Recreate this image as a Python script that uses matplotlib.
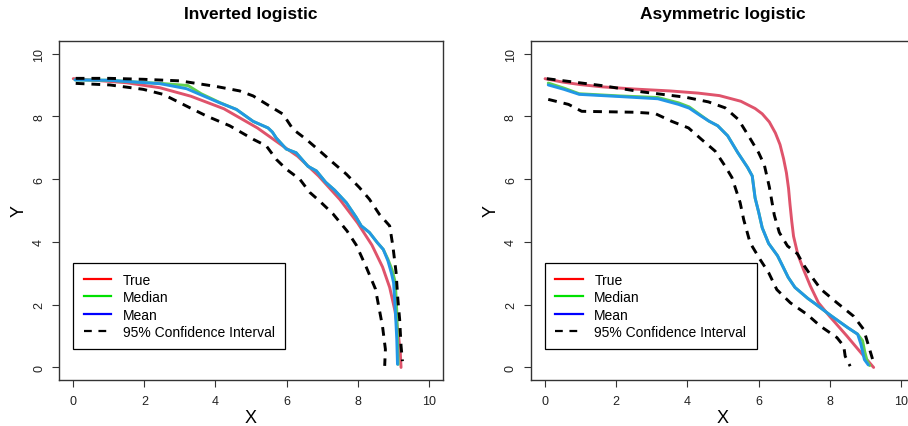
import matplotlib
matplotlib.use("Agg")
import matplotlib.pyplot as plt
from matplotlib.lines import Line2D

plt.rcParams['font.family'] = ['Liberation Sans', 'DejaVu Sans']

titles = ["Inverted logistic", "Asymmetric logistic"]
legend_labels = ["True", "Median", "Mean", "95% Confidence Interval"]
ticks = [0, 2, 4, 6, 8, 10]

# ---- Inverted logistic ----
inv_true_x = [0, 1.5, 2.44, 3.31, 4.24, 5.18, 5.84, 6.31, 6.9, 7.5, 8.0, 8.4, 8.7, 8.9, 9.05, 9.15, 9.2, 9.22]
inv_true_y = [9.2, 9.07, 8.91, 8.64, 8.24, 7.63, 7.1, 6.73, 6.1, 5.35, 4.6, 3.9, 3.2, 2.55, 1.8, 1.0, 0.45, 0.0]

inv_mean_x = [0.05, 1.0, 1.51, 2.44, 3.19, 3.6, 4.12, 4.59, 5.06, 5.48, 5.6, 5.71, 5.99, 6.27, 6.6, 6.84, 7.1,
              7.35, 7.68, 7.96, 8.1, 8.33, 8.55, 8.72, 8.85, 8.95, 9.01, 9.06, 9.1, 9.12]
inv_mean_y = [9.16, 9.15, 9.11, 9.04, 8.88, 8.68, 8.43, 8.22, 7.84, 7.63, 7.5, 7.31, 6.96, 6.84, 6.41, 6.26, 5.9,
              5.65, 5.25, 4.78, 4.51, 4.3, 3.98, 3.76, 3.4, 3.0, 2.7, 1.8, 0.9, 0.1]

inv_med_x = [0.05, 1.0, 1.51, 2.44, 2.8, 3.23, 3.6, 4.12, 4.59, 5.06, 5.48, 5.6, 5.71, 5.99, 6.27, 6.6, 6.84, 7.1,
             7.35, 7.68, 7.96, 8.1, 8.33, 8.55, 8.72, 8.85, 8.97, 9.06, 9.1, 9.12, 9.14]
inv_med_y = [9.16, 9.15, 9.11, 9.05, 9.02, 8.98, 8.72, 8.44, 8.22, 7.84, 7.63, 7.5, 7.31, 6.96, 6.84, 6.41, 6.26, 5.9,
             5.65, 5.25, 4.78, 4.51, 4.3, 3.98, 3.76, 3.45, 3.1, 2.7, 1.8, 0.9, 0.1]

inv_up_x = [0.07, 1.03, 1.97, 3.0, 4.03, 4.68, 5.06, 5.52, 5.9, 6.18, 6.55, 6.93, 7.3, 7.68, 8.05, 8.33, 8.61,
            8.9, 8.99, 9.08, 9.13, 9.18, 9.22, 9.26]
inv_up_y = [9.21, 9.21, 9.18, 9.13, 8.95, 8.81, 8.65, 8.33, 8.07, 7.59, 7.27, 6.9, 6.53, 6.16, 5.73, 5.36, 4.88,
            4.51, 3.87, 3.03, 2.18, 1.54, 0.69, 0.2]

inv_lo_x = [0.07, 1.03, 1.97, 2.53, 3.18, 3.75, 4.4, 5.06, 5.43, 5.71, 5.99, 6.37, 6.65, 6.93, 7.3, 7.7, 7.96,
            8.24, 8.5, 8.7, 8.78, 8.76]
inv_lo_y = [9.05, 9.0, 8.86, 8.7, 8.33, 8.01, 7.7, 7.27, 7.06, 6.63, 6.32, 6.0, 5.58, 5.3, 4.9, 4.35, 3.9,
            3.2, 2.5, 1.3, 0.58, 0.05]

# ---- Asymmetric logistic ----
asy_true_x = [0, 0.5, 1, 1.6, 2.5, 3.5, 4.3, 4.9, 5.5, 5.9, 6.1, 6.3, 6.47, 6.6, 6.7, 6.78, 6.84, 6.88, 6.93,
              6.98, 7.1, 7.26, 7.45, 7.68, 8.0, 8.48, 8.85, 9.23]
asy_true_y = [9.2, 9.09, 9.01, 8.94, 8.87, 8.81, 8.74, 8.66, 8.48, 8.25, 8.08, 7.82, 7.47, 7.1, 6.65, 6.2, 5.7,
              5.2, 4.65, 4.18, 3.6, 3.12, 2.6, 2.06, 1.62, 1.0, 0.5, 0.0]

asy_mean_x = [0.09, 0.53, 0.96, 2.1, 3.17, 3.75, 4.05, 4.38, 4.6, 4.85, 5.13, 5.41, 5.69, 5.82, 5.9, 6.0, 6.1,
              6.28, 6.53, 6.67, 6.83, 7.02, 7.38, 7.6, 8.03, 8.5, 8.78, 8.87, 8.97, 9.08]
asy_mean_y = [9.0, 8.86, 8.7, 8.63, 8.56, 8.38, 8.26, 8.01, 7.85, 7.7, 7.38, 6.85, 6.37, 6.1, 5.4, 4.95, 4.45,
              3.95, 3.56, 3.24, 2.87, 2.55, 2.2, 2.02, 1.65, 1.27, 1.06, 0.75, 0.25, 0.08]

asy_med_x = [0.09, 0.53, 0.96, 2.1, 3.17, 3.75, 4.05, 4.38, 4.6, 4.85, 5.13, 5.41, 5.69, 5.82, 5.9, 6.0, 6.1,
             6.28, 6.53, 6.67, 6.83, 7.02, 7.38, 7.6, 8.03, 8.5, 8.78, 8.92, 8.98, 9.05, 9.12]
asy_med_y = [9.06, 8.9, 8.72, 8.65, 8.6, 8.43, 8.3, 8.03, 7.85, 7.7, 7.38, 6.85, 6.37, 6.1, 5.4, 4.95, 4.45,
             3.95, 3.56, 3.24, 2.87, 2.55, 2.2, 2.02, 1.65, 1.27, 1.06, 0.85, 0.5, 0.2, 0.06]

asy_up_x = [0.05, 1.59, 2.72, 3.94, 4.59, 5.06, 5.43, 5.72, 6.0, 6.16, 6.3, 6.44, 6.58, 6.81, 7.09, 7.28, 7.47,
            7.75, 8.2, 8.67, 8.95, 9.09, 9.23]
asy_up_y = [9.2, 8.98, 8.78, 8.61, 8.46, 8.27, 7.9, 7.37, 6.84, 6.45, 5.75, 4.85, 4.3, 3.87, 3.62, 3.24, 2.92,
            2.49, 2.06, 1.63, 1.21, 0.68, 0.15]

asy_lo_x = [0.09, 0.66, 1.03, 2.53, 3.09, 3.56, 4.03, 4.40, 4.78, 5.06, 5.25, 5.38, 5.48, 5.58, 5.76, 6.04, 6.28,
            6.51, 6.89, 7.36, 7.73, 8.2, 8.39, 8.43, 8.57]
asy_lo_y = [8.54, 8.38, 8.16, 8.13, 8.09, 7.84, 7.63, 7.26, 6.89, 6.41, 6.05, 5.6, 5.25, 4.71, 3.97, 3.44, 3.02,
            2.48, 2.06, 1.69, 1.32, 0.95, 0.68, 0.36, 0.04]

panels = [
    (inv_true_x, inv_true_y, inv_med_x, inv_med_y, inv_mean_x, inv_mean_y, inv_up_x, inv_up_y, inv_lo_x, inv_lo_y),
    (asy_true_x, asy_true_y, asy_med_x, asy_med_y, asy_mean_x, asy_mean_y, asy_up_x, asy_up_y, asy_lo_x, asy_lo_y),
]

col_true, col_med, col_mean = "#DF536B", "#61D04F", "#2297E6"
lw = 2.1
dash = (0, (3.0, 2.4))

W, H = 908, 427
fig = plt.figure(figsize=(W / 100, H / 100), dpi=100)
axes_px = [(59, 42, 384, 339), (530.8, 42, 384.5, 339)]

for (l, t, w, h), title, data in zip(axes_px, titles, panels):
    ax = fig.add_axes([l / W, (H - t - h) / H, w / W, h / H])
    tx, ty, mdx, mdy, mnx, mny, ux, uy, lx, ly = data
    ax.plot(tx, ty, color=col_true, lw=lw, solid_capstyle='round')
    ax.plot(mdx, mdy, color=col_med, lw=lw, solid_capstyle='round')
    ax.plot(mnx, mny, color=col_mean, lw=lw, solid_capstyle='round')
    ax.plot(ux, uy, color='black', lw=lw, linestyle=dash, dash_capstyle='butt')
    ax.plot(lx, ly, color='black', lw=lw, linestyle=dash, dash_capstyle='butt')
    ax.set_xlim(-0.4, 10.4)
    ax.set_ylim(-0.4, 10.4)
    ax.set_xticks(ticks)
    ax.set_yticks(ticks)
    ax.set_xticklabels([str(v) for v in ticks])
    ax.set_yticklabels([str(v) for v in ticks], rotation=90, va='center')
    ax.tick_params(direction='out', length=5, width=0.8, labelsize=9, colors='#333333',
                   labelcolor='#222222')
    ax.tick_params(axis='x', pad=6)
    ax.tick_params(axis='y', pad=5)
    for s in ax.spines.values():
        s.set_color('#333333')
        s.set_linewidth(1.0)
    ax.set_title(title, fontsize=12.5, fontweight='bold', pad=16.5)
    ax.set_xlabel("X", fontsize=13, labelpad=1)
    ax.set_ylabel("Y", fontsize=13, labelpad=4)
    handles = [Line2D([], [], color='red', lw=1.6),
               Line2D([], [], color='#00E000', lw=1.6),
               Line2D([], [], color='blue', lw=1.6),
               Line2D([], [], color='black', lw=1.6, linestyle=(0, (3.5, 3.0)))]
    leg = ax.legend(handles, legend_labels, loc='upper left', bbox_to_anchor=(0.0, 3.34),
                    bbox_transform=ax.transData, borderaxespad=0, fontsize=10, frameon=True,
                    fancybox=False, edgecolor='black', framealpha=1, handlelength=1.95,
                    handletextpad=0.85, labelspacing=0.24, borderpad=0.75)
    leg.get_frame().set_linewidth(0.9)

fig.savefig("out.png", dpi=100)
